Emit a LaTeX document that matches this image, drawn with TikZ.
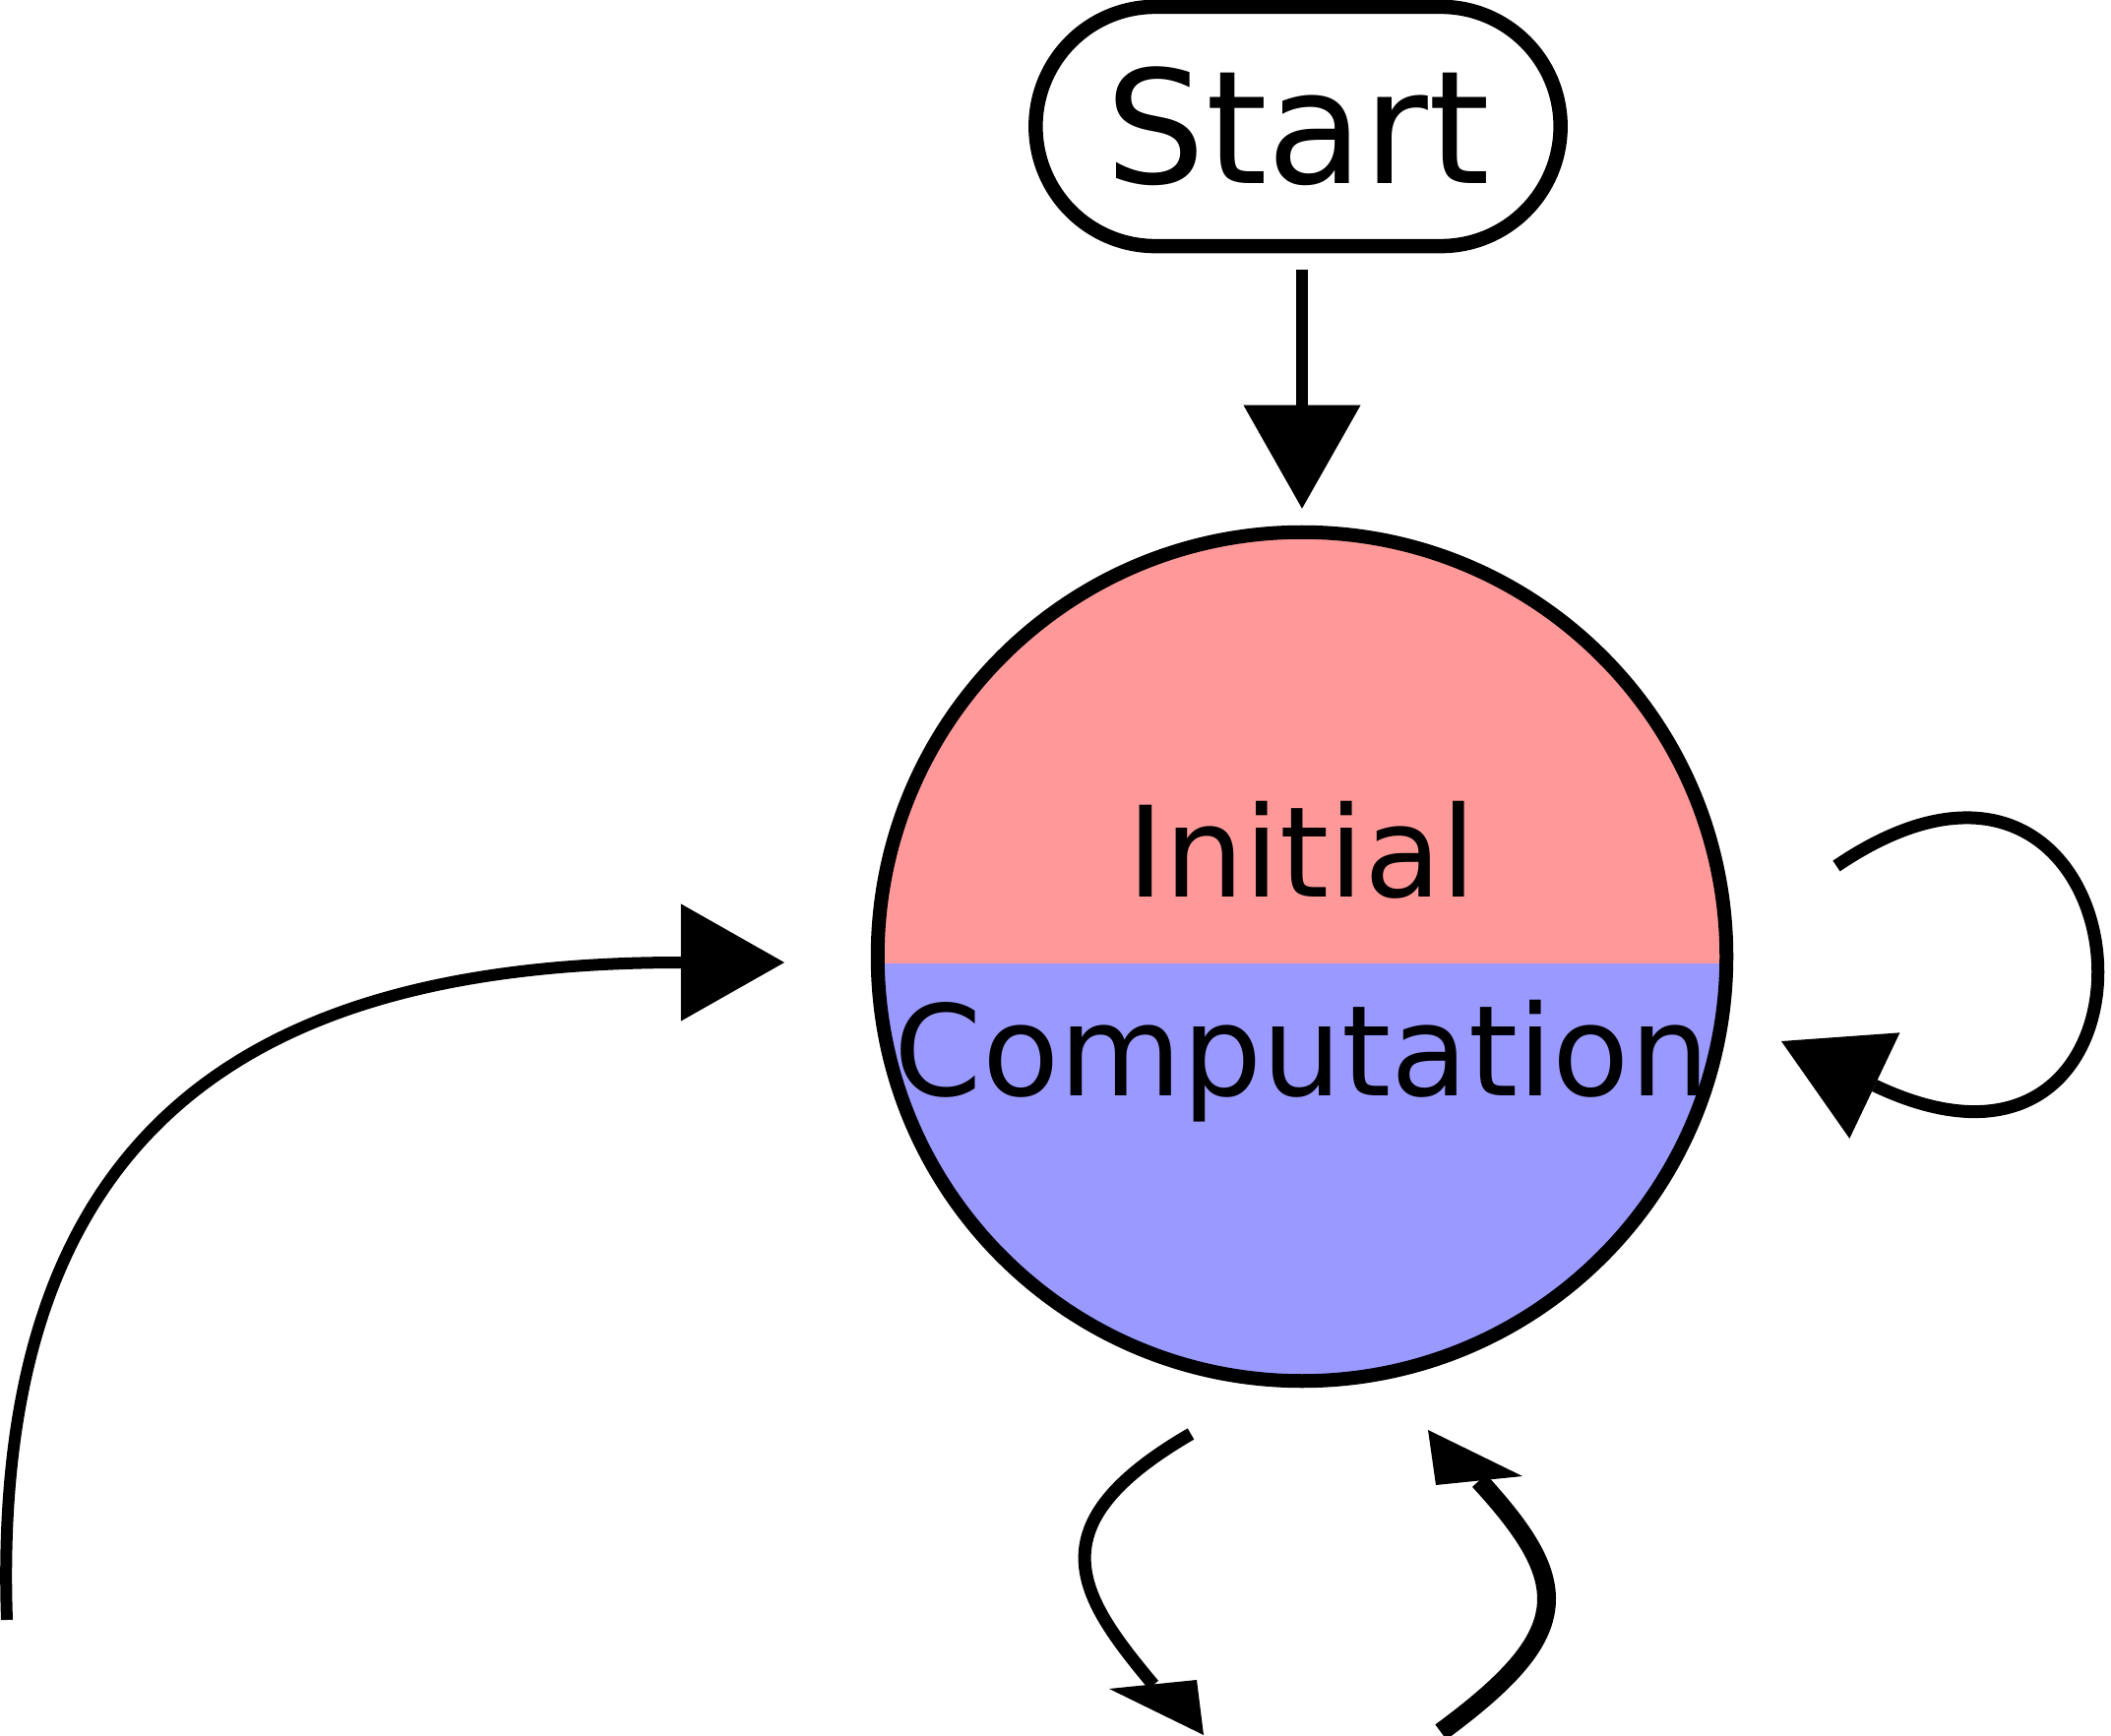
\documentclass[tikz,border=0pt]{standalone}
\usepackage{fontspec}
\setmainfont{DejaVu Sans}
\usetikzlibrary{arrows.meta,calc}
\definecolor{initpink}{HTML}{FF9999}
\definecolor{compblue}{HTML}{9999FF}

\begin{document}
\begin{tikzpicture}[x=0.01cm,y=-0.01cm,
  >={Triangle[length=1.05cm,width=1.19cm,line width=0pt]},
  terminal/.style={rectangle,rounded corners=1.215cm,draw,line width=0.145cm,
    minimum width=5.33cm,minimum height=2.43cm,font=\fontsize{45.5pt}{54pt}\selectfont},
  splitstate/.style={circle,minimum size=8.62cm,outer sep=0.07cm,
    path picture={
      \fill[initpink] (path picture bounding box.north west) rectangle (path picture bounding box.south east);
      \fill[compblue] ($(path picture bounding box.west)+(0,7)$) rectangle (path picture bounding box.south east);
    }},
  statelabel/.style={align=center,text height=3.09cm,font=\fontsize{36.4pt}{57.4pt}\selectfont},
  ring/.style={line width=0.14cm},
  flow/.style={->,line width=0.12cm},
  wedge/.style={fill=black}]
  \useasboundingbox (0,0) rectangle (2145,1764);

  \node[terminal] (start) at (1319,128.5) {Start};
  \node[splitstate,label={[statelabel]center:{Initial\\Computation}}] (ic) at (1323,972) {};
  \draw[ring] (ic.center) circle[radius=4.31cm];

  \draw[flow,shorten <=0.17cm,shorten >=0.17cm] (start.south -| ic.north) -- (ic.north);

  % free ends of the loose connectors
  \coordinate (backfoot) at (7,1646);
  \coordinate (backtip) at (797,978);
  \coordinate (loopout) at (1866,880);
  \coordinate (loopin) at (1810,1058);
  \coordinate (dropA) at (1210,1457);
  \coordinate (dropB) at (1172,1712);
  \coordinate (riseA) at (1464,1760);
  \coordinate (riseB) at (1503,1504.5);

  \draw[flow] (backfoot) .. controls (-10,1150) and (250,978) .. (backtip);
  \draw[flow,line width=0.13cm] (loopout) .. controls (2190,660) and (2235,1260) .. (loopin);

  \draw[line width=0.13cm] (dropA) .. controls (1050,1550) and (1095,1620) .. (dropB);
  \fill[wedge] (1127,1716) -- (1216,1707) -- (1223,1763) -- cycle;
  \draw[line width=0.19cm] (riseA) .. controls (1600,1660) and (1600,1610) .. (riseB);
  \fill[wedge] (1451,1453) -- (1547,1500) -- (1459,1509) -- cycle;
\end{tikzpicture}
\end{document}
